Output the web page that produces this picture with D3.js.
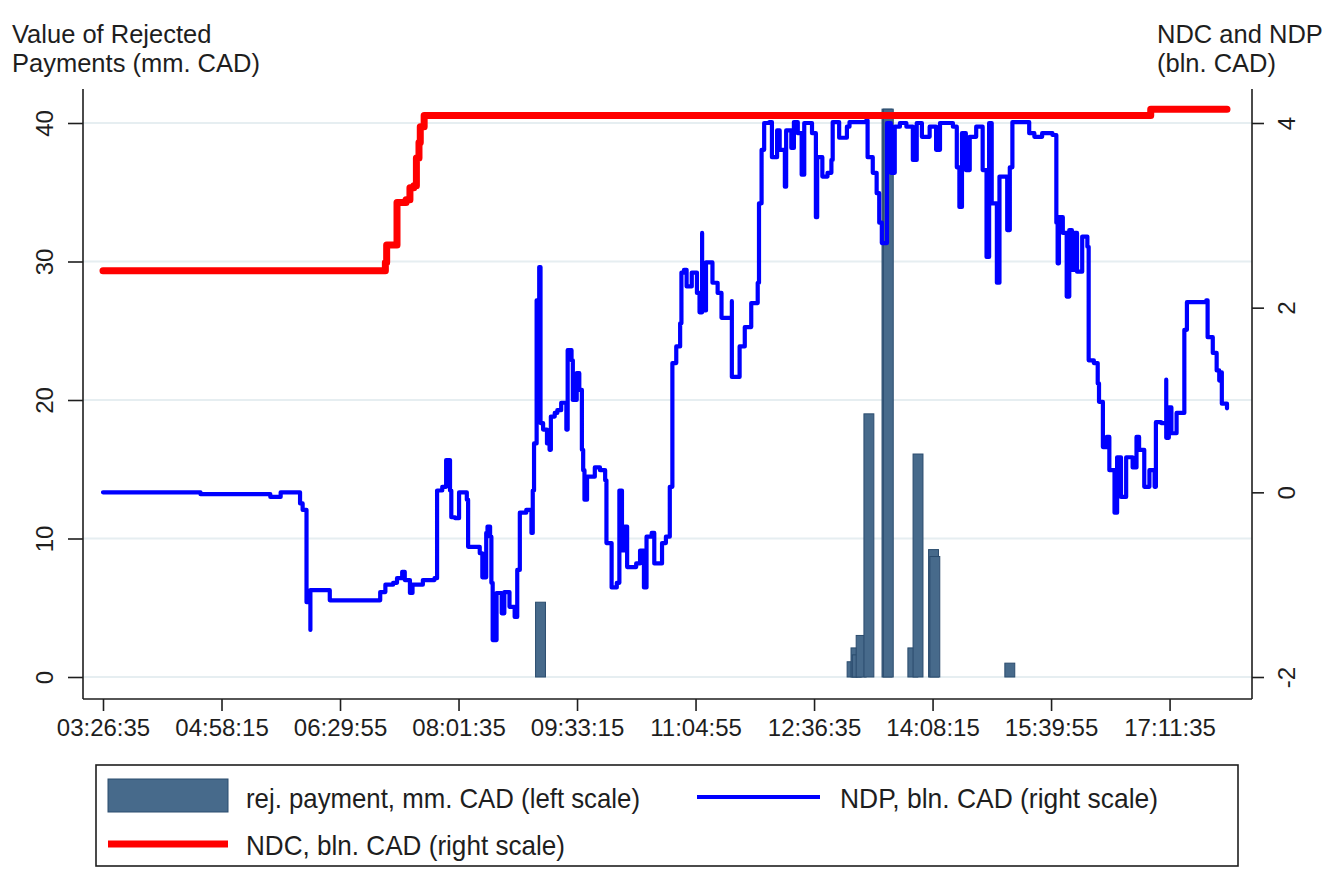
<!DOCTYPE html>
<html>
<head>
<meta charset="utf-8">
<script src="https://cdn.jsdelivr.net/npm/d3@7"></script>
<style>
  body { margin: 0; background: #fff; }
  svg { display: block; font-family: "Liberation Sans", Arial, sans-serif; }
</style>
</head>
<body>
<svg id="chart" width="1330" height="869"></svg>
<script>
// rejected payments, mm. CAD (left scale)
const rejTimes  = ["09:05", "13:06", "13:09", "13:10", "13:13", "13:19", "13:33", "13:34", "13:53", "13:57", "14:09", "14:10", "15:08"];
const rejValues = [5.4, 1.1, 2.1, 1.6, 3.0, 19.0, 41.0, 41.0, 2.1, 16.1, 9.2, 8.7, 1.0];

// net debit cap, bln. CAD (right scale)
const ndcTimes  = ["03:26:35", "07:02", "07:05", "07:06", "07:14", "07:14", "07:21", "07:24", "07:27", "07:29", "07:31", "07:32", "07:35", "16:56", "16:57", "17:56"];
const ndcValues = [2.40, 2.40, 2.49, 2.68, 2.70, 3.14, 3.17, 3.30, 3.32, 3.62, 3.79, 3.96, 4.08, 4.08, 4.15, 4.15];

// net debit position, bln. CAD (right scale)
const ndp = [
  ["03:26:35", 0.00], ["04:42", -0.02], ["05:36", -0.05], ["05:42", -0.05], ["05:44", 0.00], ["05:57", 0.00],
  ["05:59", -0.12], ["06:01", -0.19], ["06:04", -0.25], ["06:04", -1.19], ["06:06", -1.19], ["06:07", -1.49],
  ["06:07", -1.06], ["06:09", -1.06], ["06:17", -1.06], ["06:22", -1.17], ["06:57", -1.17], ["07:01", -1.08],
  ["07:05", -1.00], ["07:11", -0.98], ["07:14", -0.93], ["07:18", -0.86], ["07:20", -0.95], ["07:24", -1.09],
  ["07:26", -1.00], ["07:34", -0.95], ["07:43", -0.93], ["07:45", -0.84], ["07:45", 0.02], ["07:49", 0.06],
  ["07:52", 0.35], ["07:55", 0.02], ["07:56", -0.27], ["07:59", -0.28], ["08:02", 0.00], ["08:08", -0.08],
  ["08:09", -0.59], ["08:14", -0.59], ["08:18", -0.66], ["08:20", -0.92], ["08:23", -0.44], ["08:24", -0.37],
  ["08:26", -0.48], ["08:27", -0.98], ["08:28", -1.60], ["08:31", -1.09], ["08:35", -1.31], ["08:37", -1.08],
  ["08:41", -1.24], ["08:45", -1.35], ["08:47", -0.84], ["08:49", -0.22], ["08:54", -0.19], ["08:58", -0.44],
  ["08:59", 0.02], ["09:00", 0.53], ["09:02", 2.08], ["09:04", 2.44], ["09:05", 0.75], ["09:07", 0.68],
  ["09:10", 0.53], ["09:12", 0.46], ["09:13", 0.82], ["09:16", 0.86], ["09:18", 0.89], ["09:21", 0.97],
  ["09:25", 0.68], ["09:26", 1.54], ["09:29", 1.43], ["09:30", 1.00], ["09:33", 1.29], ["09:35", 1.11],
  ["09:37", 0.46], ["09:38", 0.24], ["09:39", -0.08], ["09:41", 0.17], ["09:47", 0.27], ["09:51", 0.24],
  ["09:55", 0.13], ["09:56", -0.55], ["10:00", -1.03], ["10:04", -0.98], ["10:06", 0.02], ["10:08", -0.63],
  ["10:10", -0.37], ["10:12", -0.81], ["10:19", -0.77], ["10:22", -0.63], ["10:25", -1.03], ["10:27", -0.48],
  ["10:31", -0.44], ["10:33", -0.77], ["10:39", -0.55], ["10:42", -0.48], ["10:45", 0.06], ["10:47", 0.89],
  ["10:47", 1.40], ["10:50", 1.58], ["10:53", 1.83], ["10:54", 2.38], ["10:56", 2.41], ["10:58", 2.23],
  ["11:02", 2.38], ["11:06", 2.16], ["11:08", 1.95], ["11:10", 2.81], ["11:10", 1.97], ["11:13", 2.49],
  ["11:18", 2.27], ["11:22", 2.16], ["11:25", 1.89], ["11:31", 1.89], ["11:33", 2.07], ["11:33", 1.25],
  ["11:39", 1.25], ["11:39", 1.58], ["11:43", 1.79], ["11:48", 2.05], ["11:53", 2.27], ["11:54", 3.13],
  ["11:56", 3.71], ["11:58", 4.00], ["12:02", 4.01], ["12:04", 3.63], ["12:08", 3.92], ["12:10", 3.71],
  ["12:14", 3.31], ["12:15", 3.92], ["12:19", 3.73], ["12:21", 4.01], ["12:24", 3.89], ["12:27", 3.44],
  ["12:29", 4.00], ["12:35", 3.89], ["12:38", 2.98], ["12:39", 3.63], ["12:43", 3.42], ["12:47", 3.46],
  ["12:50", 3.60], ["12:51", 4.01], ["12:56", 3.84], ["13:02", 3.96], ["13:04", 4.01], ["13:17", 4.03],
  ["13:18", 3.63], ["13:22", 3.46], ["13:25", 3.24], ["13:27", 2.92], ["13:29", 2.70], ["13:33", 3.27],
  ["13:33", 4.00], ["13:36", 3.46], ["13:39", 3.96], ["13:43", 4.00], ["13:48", 3.96], ["13:53", 3.60],
  ["13:56", 4.00], ["14:00", 3.85], ["14:06", 3.96], ["14:11", 3.71], ["14:14", 4.00], ["14:24", 3.96],
  ["14:27", 3.52], ["14:29", 3.09], ["14:31", 3.89], ["14:34", 3.49], ["14:37", 3.85], ["14:42", 3.96],
  ["14:47", 3.49], ["14:50", 2.55], ["14:52", 4.00], ["14:54", 3.13], ["14:58", 2.27], ["15:00", 3.42],
  ["15:04", 3.42], ["15:06", 2.84], ["15:08", 3.52], ["15:10", 4.01], ["15:15", 4.01], ["15:23", 3.89],
  ["15:27", 3.85], ["15:33", 3.89], ["15:41", 3.87], ["15:44", 3.81], ["15:44", 2.92], ["15:45", 2.48],
  ["15:46", 2.98], ["15:49", 2.81], ["15:52", 2.12], ["15:54", 2.84], ["15:56", 2.41], ["15:58", 2.81],
  ["16:00", 2.39], ["16:04", 2.77], ["16:08", 2.66], ["16:09", 1.43], ["16:13", 1.40], ["16:16", 1.18],
  ["16:17", 0.98], ["16:20", 0.49], ["16:23", 0.60], ["16:25", 0.24], ["16:29", -0.22], ["16:31", 0.38],
  ["16:34", -0.05], ["16:38", 0.38], ["16:42", 0.38], ["16:43", 0.27], ["16:46", 0.60], ["16:48", 0.46],
  ["16:52", 0.06], ["16:56", 0.24], ["17:00", 0.06], ["17:01", 0.76], ["17:05", 0.75], ["17:09", 1.22],
  ["17:09", 0.59], ["17:11", 0.92], ["17:13", 0.64], ["17:17", 0.75], ["17:17", 0.86], ["17:23", 0.87],
  ["17:23", 1.76], ["17:25", 2.06], ["17:34", 2.06], ["17:40", 2.08], ["17:41", 1.68], ["17:45", 1.51],
  ["17:48", 1.32], ["17:50", 1.21], ["17:52", 1.30], ["17:52", 0.96], ["17:56", 0.91]
];

const leftTicks = [0, 10, 20, 30, 40];
const rightTicks = [-2, 0, 2, 4];
const tickStep = 5500;       // 1h31m40s between time labels
const barWidth = 460;        // seconds

const legendLabels = ["rej. payment, mm. CAD (left scale)", "NDP, bln. CAD (right scale)", "NDC, bln. CAD (right scale)"];

const toSec = s => {
  const p = s.split(":").map(Number);
  return p[0] * 3600 + p[1] * 60 + (p[2] || 0);
};
const pad = d3.format("02d");
const fmtTime = t => pad(Math.floor(t / 3600)) + ":" + pad(Math.floor(t / 60) % 60) + ":" + pad(t % 60);

const bars = rejTimes.map((t, i) => ({ t: toSec(t), v: rejValues[i] }));
const ndc = ndcTimes.map((t, i) => ({ t: toSec(t), v: ndcValues[i] }));
const ndpPts = ndp.map(d => ({ t: toSec(d[0]), v: d[1] }));

const svg = d3.select("#chart");
const ink = "#1e1e1e";
const barFill = "#476a8b", barStroke = "#2b4c6e";

// plot frame
const frame = { left: 83, right: 1252, top: 89, bottom: 699 };

const x = d3.scaleLinear()
  .domain(d3.extent(ndpPts.concat(ndc), d => d.t))
  .range([103, 1227]);
const yL = d3.scaleLinear().domain([0, 40]).range([677, 123]);
const yR = d3.scaleLinear().domain([-2, 4]).range([677, 123]);

// grid
svg.append("g")
  .selectAll("line")
  .data(leftTicks)
  .join("line")
  .attr("x1", frame.left).attr("x2", frame.right)
  .attr("y1", d => yL(d)).attr("y2", d => yL(d))
  .attr("stroke", "#e6eef1")
  .attr("stroke-width", 2);

// bars
svg.append("g")
  .selectAll("rect")
  .data(bars)
  .join("rect")
  .attr("x", d => x(d.t - barWidth / 2))
  .attr("width", d => x(d.t + barWidth / 2) - x(d.t - barWidth / 2))
  .attr("y", d => yL(d.v))
  .attr("height", d => yL(0) - yL(d.v))
  .attr("fill", barFill)
  .attr("stroke", barStroke)
  .attr("stroke-width", 1);

const line = d3.line().curve(d3.curveStepAfter).x(d => x(d.t)).y(d => yR(d.v));

svg.append("path")
  .datum(ndpPts)
  .attr("d", line)
  .attr("fill", "none")
  .attr("stroke", "#0000ff")
  .attr("stroke-width", 4.2)
  .attr("stroke-linejoin", "round")
  .attr("stroke-linecap", "round");

svg.append("path")
  .datum(ndc)
  .attr("d", line)
  .attr("fill", "none")
  .attr("stroke", "#ff0000")
  .attr("stroke-width", 7)
  .attr("stroke-linejoin", "round")
  .attr("stroke-linecap", "round");

// axes
const xAxis = d3.axisBottom(x)
  .tickValues(d3.range(x.domain()[0], x.domain()[1], tickStep))
  .tickFormat(fmtTime)
  .tickSize(12).tickPadding(8);
const gx = svg.append("g").attr("transform", `translate(0,${frame.bottom})`).call(xAxis);
gx.select(".domain").attr("d", `M${frame.left},0H${frame.right}`);

const gl = svg.append("g").attr("transform", `translate(${frame.left},0)`)
  .call(d3.axisLeft(yL).tickValues(leftTicks).tickSize(15).tickPadding(0));
gl.select(".domain").attr("d", `M0,${frame.top}V${frame.bottom}`);

const gr = svg.append("g").attr("transform", `translate(${frame.right},0)`)
  .call(d3.axisRight(yR).tickValues(rightTicks).tickFormat(d => String(d)).tickSize(12).tickPadding(0));
gr.select(".domain").attr("d", `M0,${frame.top}V${frame.bottom}`);

svg.selectAll(".domain, .tick line").attr("stroke", ink).attr("stroke-width", 1.6);
gx.selectAll(".tick text").attr("font-size", 24).attr("fill", ink).attr("font-family", null);

gl.selectAll(".tick text")
  .attr("font-size", 24).attr("fill", ink).attr("font-family", null)
  .attr("x", null).attr("dy", null)
  .attr("text-anchor", "middle")
  .attr("transform", "translate(-30,0) rotate(-90)");

gr.selectAll(".tick text")
  .attr("font-size", 24).attr("fill", ink).attr("font-family", null)
  .attr("x", null).attr("dy", null)
  .attr("text-anchor", "middle")
  .attr("transform", "translate(43,0) rotate(-90)");

// axis titles
const title = (xPos, lines) => {
  const t = svg.append("text").attr("x", xPos).attr("y", 43)
    .attr("font-size", 25.5).attr("fill", ink);
  lines.forEach((s, i) => t.append("tspan").attr("x", xPos).attr("dy", i ? 29 : 0).text(s));
};
title(12, ["Value of Rejected", "Payments (mm. CAD)"]);
title(1157, ["NDC and NDP", "(bln. CAD)"]);

// legend
const lg = svg.append("g");
lg.append("rect")
  .attr("x", 96).attr("y", 765).attr("width", 1142).attr("height", 101)
  .attr("fill", "#fff").attr("stroke", ink).attr("stroke-width", 1.6);
lg.append("rect")
  .attr("x", 108).attr("y", 779).attr("width", 120).attr("height", 33)
  .attr("fill", barFill).attr("stroke", barStroke).attr("stroke-width", 1);
lg.append("line").attr("x1", 697).attr("x2", 820).attr("y1", 797).attr("y2", 797)
  .attr("stroke", "#0000ff").attr("stroke-width", 4);
lg.append("line").attr("x1", 108).attr("x2", 228).attr("y1", 844).attr("y2", 844)
  .attr("stroke", "#ff0000").attr("stroke-width", 7);
[[246, 808, 394], [840, 808, 318], [246, 855, 319]].forEach((p, i) => {
  lg.append("text").attr("x", p[0]).attr("y", p[1])
    .attr("font-size", 28).attr("fill", ink)
    .attr("textLength", p[2]).attr("lengthAdjust", "spacingAndGlyphs")
    .text(legendLabels[i]);
});
</script>
</body>
</html>
